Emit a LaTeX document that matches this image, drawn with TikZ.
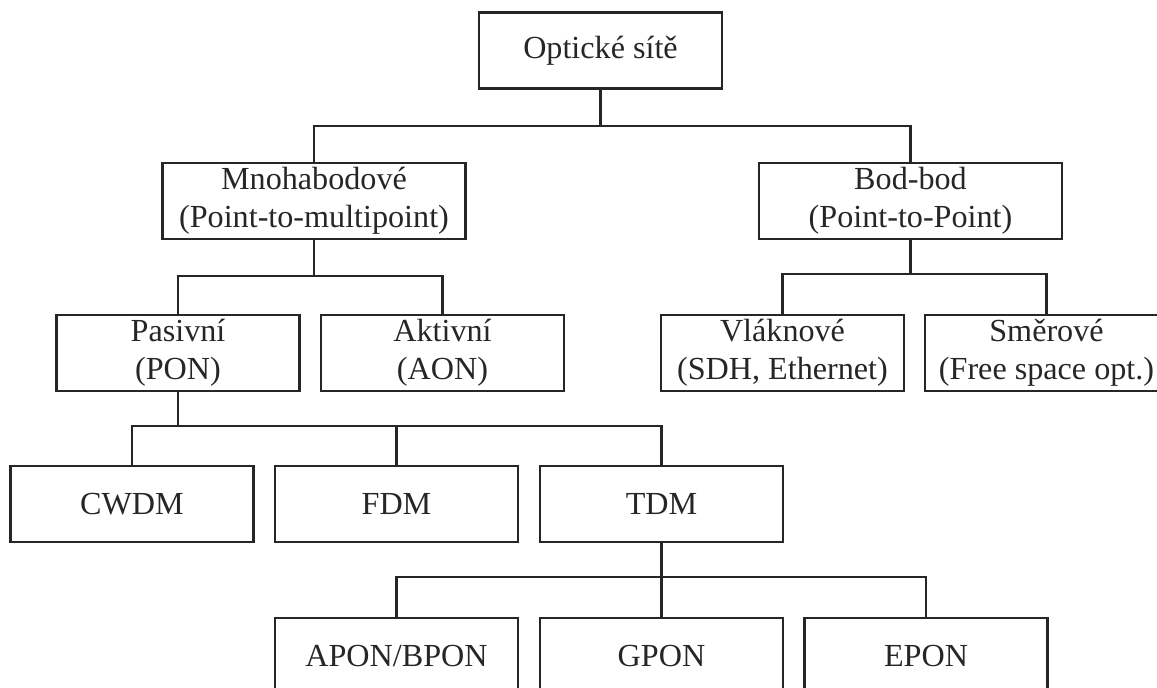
\documentclass[tikz,border=0pt]{standalone}
\usepackage{fontspec}
\setmainfont{Liberation Serif}
\begin{document}
\begin{tikzpicture}[x=0.02cm,y=-0.02cm,
  box/.style={draw=black!85, line width=1.35pt, rectangle, inner sep=0pt,
    minimum width=4.86cm, minimum height=1.52cm, align=center,
    text=black!85, font=\fontsize{18.3}{21.8}\selectfont},
  wide/.style={minimum width=6.06cm},
  link/.style={draw=black!85, line width=1.35pt}]
\useasboundingbox (0,0) rectangle (1157,687);
\clip (0,0) rectangle (1157,687);

% level 0
\node[box] (top) at (600.5,50.5) {Optické sítě};
% level 1
\node[box,wide] (mno) at (314,201) {Mnohabodové\\(Point-to-multipoint)};
\node[box,wide] (bod) at (910.5,201) {Bod-bod\\(Point-to-Point)};
% level 2
\node[box] (pas) at (178,353) {Pasivní\\(PON)};
\node[box] (akt) at (442.5,353) {Aktivní\\(AON)};
\node[box] (vla) at (782.5,353) {Vláknové\\(SDH, Ethernet)};
\node[box] (sme) at (1046.5,353) {Směrové\\(Free space opt.)};
% level 3
\node[box] (cwdm) at (132,504) {CWDM};
\node[box] (fdm) at (396.5,504) {FDM};
\node[box] (tdm) at (661.5,504) {TDM};
% level 4
\node[box] (apon) at (396.5,656) {APON/BPON};
\node[box] (gpon) at (661.5,656) {GPON};
\node[box] (epon) at (926,656) {EPON};

% bus junctions
\coordinate (j0) at (600.5,126);
\coordinate (j1) at (314,276);
\coordinate (j2) at (910.5,274);
\coordinate (j3) at (178,426);
\coordinate (j4) at (661.5,577);

% connectors
\draw[link] (top.south) -- (j0);
\draw[link] (mno.north) |- (j0) -| (bod.north);

\draw[link] (mno.south) -- (j1);
\draw[link] (pas.north) |- (j1) -| (akt.north);

\draw[link] (bod.south) -- (j2);
\draw[link] (vla.north) |- (j2) -| (sme.north);

\draw[link] (pas.south) -- (j3);
\draw[link] (cwdm.north) |- (j3) -| (tdm.north);
\draw[link] (fdm.north) -- (fdm.north |- j3);

\draw[link] (tdm.south) -- (j4);
\draw[link] (apon.north) |- (j4) -| (epon.north);
\draw[link] (gpon.north) -- (j4);
\end{tikzpicture}
\end{document}
